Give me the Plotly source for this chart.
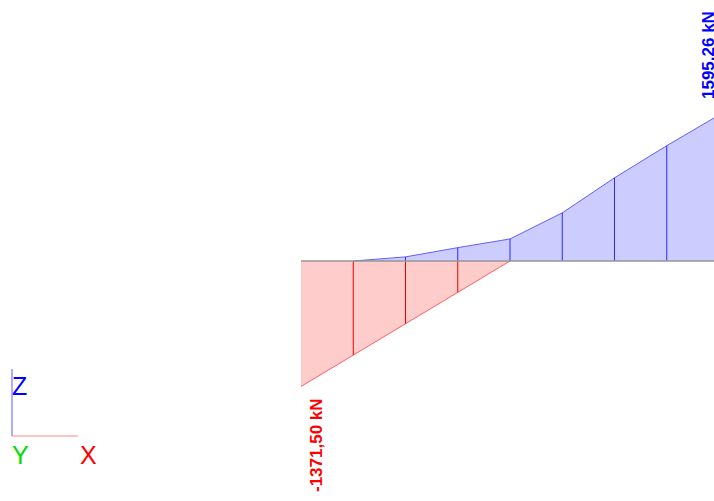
import plotly.graph_objects as go

# Stations along the member (index of section)
stations = [0, 1, 2, 3, 4, 5, 6, 7, 8]

# Envelope of the internal force [kN]
min_force = [-1371.50, -1028.6, -685.8, -342.9, 0.0]          # stations 0..4
max_force = [0.0, 45.0, 146.0, 241.0, 526.0, 909.0, 1260.0, 1595.26]  # stations 1..8

min_label = "-1371,50 kN"
max_label = "1595,26 kN"

W, H = 714, 501
X0_PX, DX_PX = 301.0, 52.25      # screen position of station 0 and station spacing
Y0_PX = 261.0                    # baseline
SCALE = 125.5 / 1371.5           # px per kN

x_range = [-X0_PX / DX_PX, (W - X0_PX) / DX_PX]
y_range = [-(H - Y0_PX) / SCALE, Y0_PX / SCALE]

RED_FILL = "rgba(255,0,0,0.2)"
BLUE_FILL = "rgba(0,0,255,0.2)"
RED_EDGE = "rgba(255,80,80,0.9)"
BLUE_EDGE = "rgba(80,80,255,0.9)"

fig = go.Figure()

st_min = stations[:len(min_force)]
st_max = stations[1:1 + len(max_force)]

# filled diagrams
fig.add_trace(go.Scatter(x=st_min, y=min_force, mode="lines", fill="tozeroy",
                         fillcolor=RED_FILL, line=dict(color=RED_EDGE, width=1),
                         hoverinfo="skip"))
fig.add_trace(go.Scatter(x=st_max, y=max_force, mode="lines", fill="tozeroy",
                         fillcolor=BLUE_FILL, line=dict(color=BLUE_EDGE, width=1),
                         hoverinfo="skip"))

# section ordinates
vx, vy = [], []
for s, v in zip(st_min[1:-1], min_force[1:-1]):
    vx += [s, s, None]
    vy += [0, v, None]
fig.add_trace(go.Scatter(x=vx, y=vy, mode="lines", line=dict(color="rgb(240,0,0)", width=1),
                         hoverinfo="skip"))
vx, vy = [], []
for s, v in zip(st_max[1:-1], max_force[1:-1]):
    vx += [s, s, None]
    vy += [0, v, None]
fig.add_trace(go.Scatter(x=vx, y=vy, mode="lines", line=dict(color="rgb(40,40,255)", width=1),
                         hoverinfo="skip"))

# member axis
fig.add_trace(go.Scatter(x=[stations[0], stations[-1]], y=[0, 0], mode="lines",
                         line=dict(color="rgb(150,150,150)", width=1.5), hoverinfo="skip"))

# extreme value labels (the max station lies just past the right edge, so the
# label is anchored one station earlier and shifted by one spacing)
lab_font = dict(family="Liberation Sans, Arial, sans-serif", size=17)
fig.add_annotation(x=st_min[0], y=min_force[0], text="<b>%s</b>" % min_label, textangle=-90,
                   showarrow=False, xanchor="center", yanchor="middle",
                   xshift=15, yshift=-58.5, font=dict(color="rgb(255,0,0)", **lab_font))
fig.add_annotation(x=st_max[-2], y=max_force[-1], text="<b>%s</b>" % max_label, textangle=-90,
                   showarrow=False, xanchor="center", yanchor="middle",
                   xshift=DX_PX - 11, yshift=60, font=dict(color="rgb(0,0,255)", **lab_font))

# global axis triad (screen coordinates)
def px(x):
    return x / W

def py(y):
    return 1 - y / H

fig.add_shape(type="line", xref="paper", yref="paper", x0=px(12), x1=px(12), y0=py(369), y1=py(436),
              line=dict(color="rgba(100,100,255,0.7)", width=1.5))
fig.add_shape(type="line", xref="paper", yref="paper", x0=px(12), x1=px(78), y0=py(436), y1=py(436),
              line=dict(color="rgba(255,120,120,0.6)", width=1.5))
axis_font = "Liberation Sans, Arial, sans-serif"
for txt, cx, cy, col in [("Z", 19, 386, "rgb(0,0,255)"), ("Y", 20, 455, "rgb(0,220,0)"),
                         ("X", 88, 455, "rgb(255,0,0)")]:
    fig.add_annotation(xref="paper", yref="paper", x=px(cx), y=py(cy), text=txt, showarrow=False,
                       xanchor="center", yanchor="middle",
                       font=dict(family=axis_font, size=25, color=col))

fig.update_layout(
    width=W, height=H, margin=dict(l=0, r=0, t=0, b=0),
    paper_bgcolor="white", plot_bgcolor="white", showlegend=False,
    xaxis=dict(range=x_range, visible=False, fixedrange=True),
    yaxis=dict(range=y_range, visible=False, fixedrange=True),
)

fig.write_html("out.html")
